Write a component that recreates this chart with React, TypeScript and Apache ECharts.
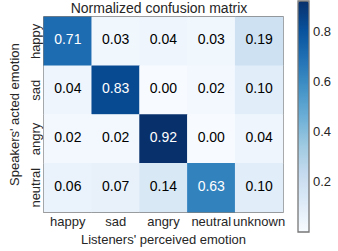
import React, { useEffect, useRef } from "react";
import * as echarts from "echarts";

const listenerCategories = ["happy", "sad", "angry", "neutral", "unknown"];
const speakerCategories = ["happy", "sad", "angry", "neutral"];
const rowHappy = [0.71, 0.03, 0.04, 0.03, 0.19];
const rowSad = [0.04, 0.83, 0.0, 0.02, 0.1];
const rowAngry = [0.02, 0.02, 0.92, 0.0, 0.04];
const rowNeutral = [0.06, 0.07, 0.14, 0.63, 0.1];
const matrix = [rowHappy, rowSad, rowAngry, rowNeutral];
const colorbarTicks = [0.2, 0.4, 0.6, 0.8];
const colorMin = 0;
const colorMax = 0.92;

const BLUES = [
  "#f7fbff",
  "#deebf7",
  "#c6dbef",
  "#9ecae1",
  "#6baed6",
  "#4292c6",
  "#2171b5",
  "#08519c",
  "#08306b",
];

const FONT = "Liberation Sans, Arial, sans-serif";
const TEXT = "#262626";

export default function App() {
  const ref = useRef<HTMLDivElement>(null);

  useEffect(() => {
    if (!ref.current) return;
    const chart = echarts.init(ref.current, null, { renderer: "svg" });

    const data: any[] = [];
    matrix.forEach((row, i) => {
      row.forEach((v, j) => {
        data.push({
          value: [j, i, v],
          label: { color: v > 0.5 ? "#ffffff" : "#000000" },
        });
      });
    });

    chart.setOption({
      animation: false,
      backgroundColor: "#ffffff",
      textStyle: { fontFamily: FONT },
      title: {
        text: "Normalized confusion matrix",
        left: 159,
        top: 1,
        padding: 0,
        textAlign: "center",
        textVerticalAlign: "top",
        textStyle: { fontSize: 14, fontWeight: "normal", color: TEXT, fontFamily: FONT },
      },
      grid: [
        {
          left: 35,
          top: 17,
          width: 248,
          height: 196,
          show: true,
          borderColor: "#555555",
          borderWidth: 1.3,
          backgroundColor: "transparent",
          containLabel: false,
        },
        {
          left: 298,
          top: 1,
          width: 11,
          height: 231,
          show: true,
          borderColor: "#777777",
          borderWidth: 1.3,
          backgroundColor: "transparent",
          z: 10,
        },
      ],
      xAxis: [
        {
          type: "category",
          gridIndex: 0,
          data: listenerCategories,
          axisLine: { show: false },
          axisTick: { show: false },
          splitLine: { show: false },
          axisLabel: { color: TEXT, fontSize: 13, margin: 3, interval: 0, fontFamily: FONT },
          name: "Listeners' perceived emotion",
          nameLocation: "middle",
          nameGap: 18,
          nameTextStyle: { color: TEXT, fontSize: 13, fontFamily: FONT },
        },
        {
          type: "value",
          gridIndex: 1,
          show: false,
          min: 0,
          max: 1,
        },
      ],
      yAxis: [
        {
          type: "category",
          gridIndex: 0,
          data: speakerCategories,
          inverse: true,
          axisLine: { show: false },
          axisTick: { show: false },
          splitLine: { show: false },
          axisLabel: {
            color: TEXT,
            fontSize: 13,
            margin: 2,
            rotate: 90,
            interval: 0,
            fontFamily: FONT,
          },
          name: "Speakers' acted emotion",
          nameLocation: "middle",
          nameGap: 18,
          nameRotate: 90,
          nameTextStyle: { color: TEXT, fontSize: 13, fontFamily: FONT },
        },
        {
          type: "value",
          gridIndex: 1,
          min: colorMin,
          max: colorMax,
          interval: 0.2,
          position: "right",
          axisLine: { show: false },
          axisTick: { show: false },
          splitLine: { show: false },
          axisLabel: {
            color: TEXT,
            fontSize: 13,
            margin: 4,
            showMinLabel: false,
            showMaxLabel: false,
            fontFamily: FONT,
            formatter: (v: number) =>
              colorbarTicks.some((t) => Math.abs(t - v) < 1e-6) ? v.toFixed(1) : "",
          },
        },
      ],
      visualMap: {
        type: "continuous",
        seriesIndex: 0,
        min: colorMin,
        max: colorMax,
        calculable: false,
        showLabel: false,
        text: ["", ""],
        left: 298,
        top: 1,
        itemWidth: 11,
        itemHeight: 231,
        padding: 0,
        hoverLink: false,
        inRange: { color: BLUES },
      },
      series: [
        {
          type: "heatmap",
          xAxisIndex: 0,
          yAxisIndex: 0,
          data,
          label: {
            show: true,
            fontSize: 14,
            fontFamily: FONT,
            offset: [0, -2],
            formatter: (p: any) => p.value[2].toFixed(2),
          },
          itemStyle: { borderWidth: 0 },
          emphasis: { disabled: true },
        },
        {
          type: "scatter",
          xAxisIndex: 1,
          yAxisIndex: 1,
          data: [],
        },
      ],
    });

    return () => chart.dispose();
  }, []);

  return (
    <div
      ref={ref}
      style={{ position: "absolute", left: 0, top: 0, width: 338, height: 251 }}
    />
  );
}
